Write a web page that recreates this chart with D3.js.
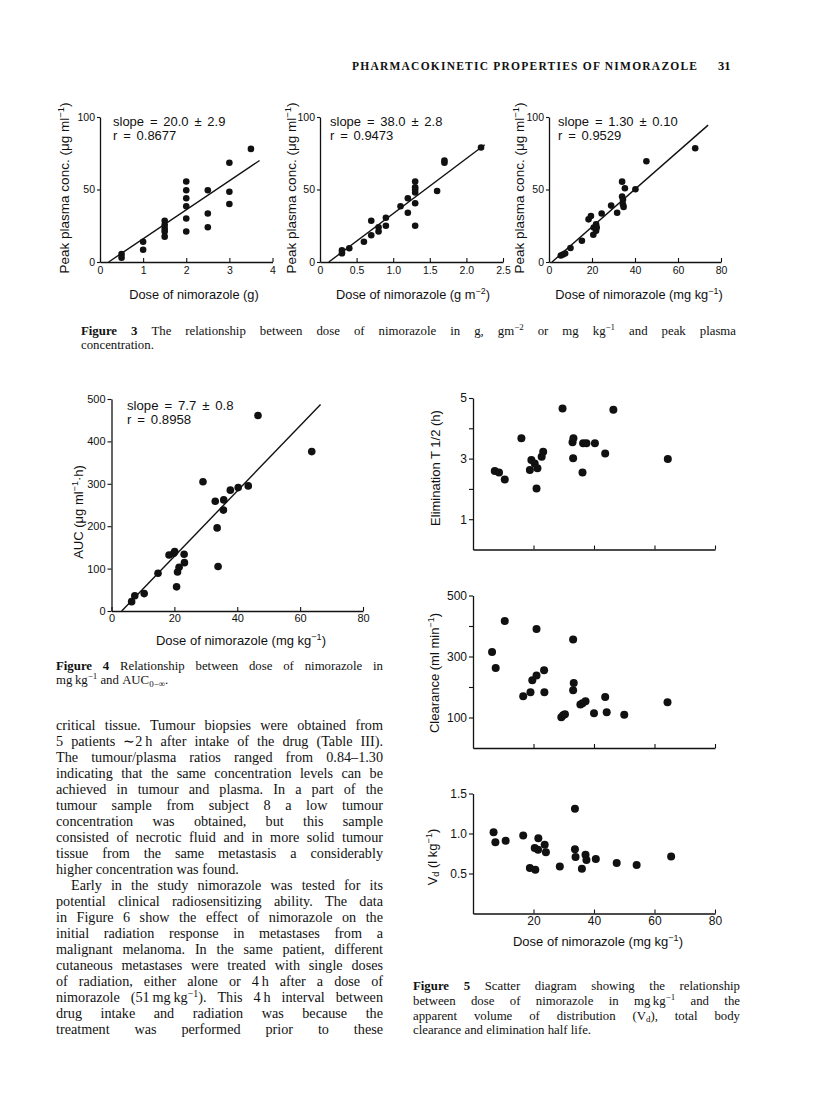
<!DOCTYPE html>
<html><head><meta charset="utf-8">
<script src="https://cdn.jsdelivr.net/npm/d3@7"></script>
<style>html,body{margin:0;padding:0;background:#fff}svg{display:block}</style>
</head><body>
<svg id="page" width="816" height="1110"></svg>
<script>
// ---------------- DATA ----------------
// Figure 3a: dose (g) vs peak plasma conc.
const fig3aDose = [0.5,0.5,1,1,1.5,1.5,1.5,1.5,1.5,2,2,2,2,2,2,2.5,2.5,2.5,3,3,3,3.5];
const fig3aConc = [5.5,3,14,8.5,28.5,25.5,23,21,17.5,55.5,49.5,44,38.5,30,21,49.5,33.5,24,68.5,48.5,40,78];
// Figure 3b: dose (g m-2)
const fig3bDose = [0.3,0.3,0.4,0.6,0.7,0.7,0.8,0.8,0.9,0.9,1.1,1.2,1.2,1.3,1.3,1.3,1.3,1.3,1.3,1.6,1.7,1.7,2.2];
const fig3bConc = [6,8,9.5,14,28.5,18.5,24,21,30.5,25,38.5,34,44,55.5,51.5,50,48,40.5,25,49,70,68.5,79];
// Figure 3c: dose (mg kg-1)
const fig3cDose = [5.5,6.5,7.5,10,15.3,18.4,19.5,20.6,20.8,21.9,22.2,21.9,24.5,28.9,31.7,34,34,34.4,34.4,34.7,35.3,40.2,45.3,68];
const fig3cConc = [4.5,5.2,5.9,9.7,14.7,29.4,31.7,18.8,23.8,26,23.8,21.5,33.5,38.9,34,55.4,45.2,43,39.6,38,50.9,50.2,69.5,78.5];
// regression lines: [slope, intercept, xStart, xEnd]
const fig3aFit = [20.0, -4.0, 0.2, 3.7];
const fig3bFit = [38.0, -4.6, 0.12, 2.25];
const fig3cFit = [1.30, -1.8, 1.4, 74];
const fig3Stats = [["slope = 20.0 ± 2.9","r = 0.8677"],["slope = 38.0 ± 2.8","r = 0.9473"],["slope = 1.30 ± 0.10","r = 0.9529"]];
const fig3XTitles = ["Dose of nimorazole (g)","Dose of nimorazole (g m^{−2})","Dose of nimorazole (mg kg^{−1})"];
const fig3YTitle = "Peak plasma conc. (μg ml^{−1})";
const fig3aXTicks = [0,1,2,3,4];
const fig3aXLabels = ["0","1","2","3","4"];
const fig3bXTicks = [0,0.5,1,1.5,2,2.5];
const fig3bXLabels = ["0","0.5","1.0","1.5","2.0","2.5"];
const fig3cXTicks = [0,20,40,60,80];
const fig3cXLabels = ["0","20","40","60","80"];
const fig3YTicks = [0,50,100];
const fig3YLabels = ["0","50","100"];

// Figure 4: dose (mg kg-1) vs AUC
const fig4Dose = [6.4,7.4,10.4,14.8,18.3,19.8,20.1,23.1,23.2,21.5,21,20.7,29.1,33,33.6,33.9,35.7,35.6,37.8,40.3,43.5,46.6,63.7];
const fig4Auc  = [22,36,41,89,132,136,140,134,114,103,92,57,305,259,196,105,262,238,285,291,295,461,376];
const fig4Fit = [7.7, -25, 3.25, 66.5];
const fig4Stats = ["slope = 7.7 ± 0.8","r = 0.8958"];
const fig4XTicks = [0,20,40,60,80];
const fig4XLabels = ["0","20","40","60","80"];
const fig4YTicks = [0,100,200,300,400,500];
const fig4YLabels = ["0","100","200","300","400","500"];

// Figure 5
const fig5DoseT = [7.2,8.6,10.5,16,18.8,19.3,20.4,21,21.3,22.7,23.2,29.6,32.9,33.2,33.1,36.2,36.4,37.5,40.3,43.7,46.4,64.4];
const fig5HalfLife = [2.59,2.54,2.31,3.67,2.62,2.95,2.84,2.01,2.68,3.06,3.23,4.65,3.54,3.67,3.01,2.54,3.51,3.51,3.51,3.17,4.61,2.99];
const fig5DoseC = [6.3,7.5,10.5,16.6,19,19.6,21,21,23.5,23.6,29.2,29.8,30.4,33.1,33.3,33.1,35.5,36.2,37.2,40,43.7,44.2,50,64.3];
const fig5Clearance = [315,262,416,170,183,222,390,238,255,183,101,107,111,356,213,189,143,147,153,114,167,117,109,150];
const fig5DoseV = [6.8,7.4,10.8,16.6,18.8,20.4,20.6,21.6,21.5,23.7,24.1,28.7,33.7,33.7,33.9,36,37.2,37.5,40.6,47.5,54.1,65.5];
const fig5Vd = [1.015,0.89,0.91,0.974,0.57,0.82,0.547,0.94,0.796,0.858,0.767,0.588,1.31,0.804,0.705,0.56,0.733,0.67,0.68,0.63,0.605,0.713];
const fig5XTicks = [20,40,60,80];
const fig5XLabels = ["20","40","60","80"];
const fig5TYTicks = [1,2,3,4,5];
const fig5TYLabels = ["1","","3","","5"];
const fig5CYTicks = [100,200,300,400,500];
const fig5CYLabels = ["100","","300","","500"];
const fig5VYTicks = [0.5,1.0,1.5];
const fig5VYLabels = ["0.5","1.0","1.5"];

// Text
const headerText = "PHARMACOKINETIC PROPERTIES OF NIMORAZOLE";
const pageNumber = "31";
const fig3Caption = [
  {s:"**Figure** **3** The relationship between dose of nimorazole in g, gm^{−2} or mg kg^{−1} and peak plasma", j:true},
  {s:"concentration.", j:false}
];
const fig4Caption = [
  {s:"**Figure** **4** Relationship between dose of nimorazole in", j:true},
  {s:"mg\u2009kg^{−1} and AUC_{0−∞}.", j:false}
];
const fig5Caption = [
  {s:"**Figure** **5** Scatter diagram showing the relationship", j:true},
  {s:"between dose of nimorazole in mg\u2009kg^{−1} and the", j:true},
  {s:"apparent volume of distribution (V_{d}), total body", j:true},
  {s:"clearance and elimination half life.", j:false}
];
const bodyLines = [
  {s:"critical tissue. Tumour biopsies were obtained from", j:true},
  {s:"5 patients ∼2\u2009h after intake of the drug (Table III).", j:true},
  {s:"The tumour/plasma ratios ranged from 0.84–1.30", j:true},
  {s:"indicating that the same concentration levels can be", j:true},
  {s:"achieved in tumour and plasma. In a part of the", j:true},
  {s:"tumour sample from subject 8 a low tumour", j:true},
  {s:"concentration was obtained, but this sample", j:true},
  {s:"consisted of necrotic fluid and in more solid tumour", j:true},
  {s:"tissue from the same metastasis a considerably", j:true},
  {s:"higher concentration was found.", j:false},
  {s:"Early in the study nimorazole was tested for its", j:true, indent:15},
  {s:"potential clinical radiosensitizing ability. The data", j:true},
  {s:"in Figure 6 show the effect of nimorazole on the", j:true},
  {s:"initial radiation response in metastases from a", j:true},
  {s:"malignant melanoma. In the same patient, different", j:true},
  {s:"cutaneous metastases were treated with single doses", j:true},
  {s:"of radiation, either alone or 4\u2009h after a dose of", j:true},
  {s:"nimorazole (51\u2009mg\u2009kg^{−1}). This 4\u2009h interval between", j:true},
  {s:"drug intake and radiation was because the", j:true},
  {s:"treatment was performed prior to these", j:true}
];

// ---------------- DRAWING ----------------
const SANS = "'Liberation Sans', Arial, Helvetica, sans-serif";
const SERIF = "'Liberation Serif', 'Times New Roman', Times, serif";
const INK = "#111";
const svg = d3.select("#page");
svg.append("rect").attr("width",816).attr("height",1110).attr("fill","#fff");

function rich(sel, str, fs){
  const re = /\*\*(.+?)\*\*|\^\{(.+?)\}|_\{(.+?)\}|([^*^_]+|[*^_])/g;
  let m, shift = 0;
  while((m = re.exec(str))){
    let t, kind = "n";
    if(m[1]!==undefined){t=m[1];kind="b";}
    else if(m[2]!==undefined){t=m[2];kind="sup";}
    else if(m[3]!==undefined){t=m[3];kind="sub";}
    else t=m[4];
    const ts = sel.append("tspan").text(t);
    let target = 0;
    if(kind==="sup"){ts.attr("font-size",fs*0.7);target=-fs*0.38;}
    if(kind==="sub"){ts.attr("font-size",fs*0.7);target=fs*0.22;}
    if(kind==="b") ts.attr("font-weight","bold");
    if(target!==shift){ts.attr("dy",target-shift);shift=target;}
  }
  return sel;
}

function para(lines, x0, width, y0, lh, fs){
  lines.forEach((ln,i)=>{
    const y = y0 + i*lh;
    const indent = ln.indent||0;
    const words = ln.s.split(" ");
    const nodes = words.map(w=>{
      const t = svg.append("text").attr("y",y).attr("font-family",SERIF)
        .attr("font-size",fs).attr("fill",INK);
      rich(t,w,fs);
      return t;
    });
    const widths = nodes.map(t=>t.node().getComputedTextLength());
    const total = d3.sum(widths);
    const gap = (ln.j && words.length>1) ? (width-indent-total)/(words.length-1) : fs*0.25;
    let cx = x0+indent;
    nodes.forEach((t,k)=>{t.attr("x",cx);cx+=widths[k]+gap;});
  });
}

function hTitle(str, cx, y, fs){
  const t = svg.append("text").attr("x",cx).attr("y",y).attr("text-anchor","middle")
    .attr("font-family",SANS).attr("font-size",fs).attr("fill",INK);
  rich(t,str,fs);
}
function vTitle(str, cx, cy, fs){
  const t = svg.append("text").attr("transform",`translate(${cx},${cy}) rotate(-90)`)
    .attr("y",fs*0.35).attr("text-anchor","middle")
    .attr("font-family",SANS).attr("font-size",fs).attr("fill",INK);
  rich(t,str,fs);
}
function stats(lines, x, y, lh, fs){
  lines.forEach((s,i)=>svg.append("text").attr("x",x).attr("y",y+i*lh)
    .attr("font-family",SANS).attr("font-size",fs).attr("fill",INK)
    .attr("word-spacing",2.2).attr("xml:space","preserve").text(s));
}

function scatter(c){
  const g = svg.append("g");
  const x = d3.scaleLinear().domain(c.xd).range(c.xr);
  const y = d3.scaleLinear().domain(c.yd).range(c.yr);
  const xa = d3.axisBottom(x).tickValues(c.xTicks).tickSizeInner(-c.xTickLen).tickSizeOuter(0)
    .tickPadding(c.xPad).tickFormat((d,i)=>c.xLabels ? c.xLabels[i] : "");
  const gx = g.append("g").attr("transform",`translate(0,${y(c.yd[0])})`).call(xa);
  const ya = d3.axisLeft(y).tickValues(c.yTicks).tickSizeInner(c.yTickLen).tickSizeOuter(0)
    .tickPadding(c.yPad).tickFormat((d,i)=>c.yLabels[i]);
  const gy = g.append("g").attr("transform",`translate(${x(c.xd[0])},0)`).call(ya);
  [gx,gy].forEach(a=>{
    a.attr("font-family",SANS).attr("font-size",c.tickFs);
    a.select(".domain").attr("stroke",INK).attr("stroke-width",1.3);
    a.selectAll(".tick line").attr("stroke",INK).attr("stroke-width",1.1);
    a.selectAll(".tick text").attr("fill",INK);
  });
  if(c.fit){
    const [s,b,x0,x1] = c.fit;
    const pts = [[x0,s*x0+b],[x1,s*x1+b]];
    g.append("path").attr("d",d3.line().x(d=>x(d[0])).y(d=>y(d[1]))(pts))
      .attr("fill","none").attr("stroke",INK).attr("stroke-width",1.4);
  }
  g.selectAll("circle.pt").data(d3.zip(c.xs,c.ys)).join("circle").attr("class","pt")
    .attr("cx",d=>x(d[0])).attr("cy",d=>y(d[1])).attr("r",c.r).attr("fill",INK);
  return {x,y};
}

// Header
svg.append("text").attr("x",352).attr("y",70).attr("font-family",SERIF).attr("font-size",11.5)
  .attr("font-weight","bold").attr("fill",INK).attr("textLength",345).attr("lengthAdjust","spacing")
  .text(headerText);
svg.append("text").attr("x",718).attr("y",70).attr("font-family",SERIF).attr("font-size",12.5)
  .attr("font-weight","bold").attr("fill",INK).text(pageNumber);

// Figure 3
const f3common = {yd:[0,100], yr:[262,117], yTicks:fig3YTicks, yLabels:fig3YLabels, yTickLen:3, yPad:2,
  xTickLen:4, xPad:4.3, tickFs:10.5, r:3.3};
scatter(Object.assign({}, f3common, {xd:[0,4], xr:[100,272.5], xTicks:fig3aXTicks, xLabels:fig3aXLabels,
  xs:fig3aDose, ys:fig3aConc, fit:fig3aFit}));
scatter(Object.assign({}, f3common, {xd:[0,2.5], xr:[320,503], xTicks:fig3bXTicks, xLabels:fig3bXLabels,
  xs:fig3bDose, ys:fig3bConc, fit:fig3bFit}));
scatter(Object.assign({}, f3common, {xd:[0,80], xr:[549,721], xTicks:fig3cXTicks, xLabels:fig3cXLabels,
  xs:fig3cDose, ys:fig3cConc, fit:fig3cFit}));
[[113,64],[330,291],[558,519]].forEach(([sx,vx],i)=>{
  stats(fig3Stats[i], sx, 125.5, 14.5, 13);
  vTitle(fig3YTitle, vx, 188, 13.5);
});
hTitle(fig3XTitles[0], 194, 298.5, 12.8);
hTitle(fig3XTitles[1], 413, 298.5, 12.8);
hTitle(fig3XTitles[2], 639, 298.5, 12.8);
para(fig3Caption, 81, 655, 334.5, 14.5, 12.8);

// Figure 4
scatter({xd:[0,80], xr:[111.5,363], yd:[0,500], yr:[611,399], xTicks:fig4XTicks, xLabels:fig4XLabels,
  xTickLen:4, xPad:3.2, yTicks:fig4YTicks, yLabels:fig4YLabels, yTickLen:4, yPad:2, tickFs:11,
  xs:fig4Dose, ys:fig4Auc, r:3.8, fit:fig4Fit});
stats(fig4Stats, 127, 409.5, 14.5, 13.2);
vTitle("AUC (μg ml^{−1}·h)", 78, 512, 13);
hTitle("Dose of nimorazole (mg kg^{−1})", 241, 644.5, 13);
para(fig4Caption, 56, 327, 669.5, 14.5, 12.8);

// Figure 5
const f5common = {xd:[0,80], xr:[473,715], xTicks:fig5XTicks, xTickLen:4, yTickLen:4, yPad:2, tickFs:12, r:4};
scatter(Object.assign({}, f5common, {yd:[0,5], yr:[549.5,398], xLabels:null, xPad:3,
  yTicks:fig5TYTicks, yLabels:fig5TYLabels, xs:fig5DoseT, ys:fig5HalfLife}));
scatter(Object.assign({}, f5common, {yd:[0,500], yr:[748,595.5], xLabels:null, xPad:3,
  yTicks:fig5CYTicks, yLabels:fig5CYLabels, xs:fig5DoseC, ys:fig5Clearance}));
scatter(Object.assign({}, f5common, {yd:[0,1.5], yr:[913.5,793.5], xLabels:fig5XLabels, xPad:3.3,
  yTicks:fig5VYTicks, yLabels:fig5VYLabels, xs:fig5DoseV, ys:fig5Vd}));
vTitle("Elimination T 1/2 (h)", 435, 468, 13);
vTitle("Clearance (ml min^{−1})", 434, 673, 13);
vTitle("V_{d} (l kg^{−1})", 432, 857, 13);
hTitle("Dose of nimorazole (mg kg^{−1})", 598, 946, 13);
para(fig5Caption, 413, 327, 990, 14.8, 12.8);

// Body text
para(bodyLines, 56, 327, 730, 16, 14.2);
</script>
</body></html>
